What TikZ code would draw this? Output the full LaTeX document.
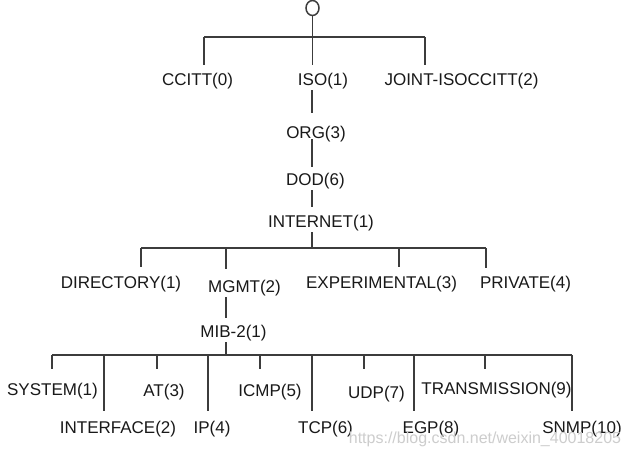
\documentclass[tikz,border=0pt]{standalone}
\usepackage{fontspec}
\setmainfont{Liberation Sans}
\usetikzlibrary{shapes.geometric}
\definecolor{txt}{RGB}{25,25,25}
\definecolor{ln}{RGB}{60,60,60}
\definecolor{wm}{RGB}{205,205,205}
\begin{document}
\begin{tikzpicture}[x=1pt,y=-1pt,
  lbl/.style={anchor=base,inner sep=0pt,text=txt,font=\fontsize{17}{20}\selectfont},
  conn/.style={draw=ln,line width=1.3pt},
  rootnode/.style={ellipse,draw=ln,line width=1.5pt,minimum width=13pt,minimum height=15pt,inner sep=0pt,outer sep=0pt}]
\useasboundingbox[fill=white] (0,0) rectangle (630,455);

% root
\node[rootnode] (root) at (312.5,8) {};

% level 1
\node[lbl] (ccitt) at (197.5,85) {CCITT(0)};
\node[lbl] (iso) at (323,85) {ISO(1)};
\node[lbl] (joint) at (461.5,85) {JOINT-ISOCCITT(2)};
\node[lbl] (org) at (316,138) {ORG(3)};
\node[lbl] (dod) at (315.5,185) {DOD(6)};
\node[lbl] (internet) at (321,227) {INTERNET(1)};

% level internet
\node[lbl] (directory) at (121,288) {DIRECTORY(1)};
\node[lbl] (mgmt) at (244.5,292) {MGMT(2)};
\node[lbl] (experimental) at (381.5,288) {EXPERIMENTAL(3)};
\node[lbl] (private) at (525.5,288) {PRIVATE(4)};
\node[lbl] (mib) at (233.5,337) {MIB-2(1)};

% mib-2 children
\node[lbl] (system) at (52.5,395) {SYSTEM(1)};
\node[lbl] (at) at (164,396) {AT(3)};
\node[lbl] (icmp) at (270,396) {ICMP(5)};
\node[lbl] (udp) at (376.5,398) {UDP(7)};
\node[lbl] (transmission) at (496.5,394) {TRANSMISSION(9)};
\node[lbl] (interface) at (118,433) {INTERFACE(2)};
\node[lbl] (ip) at (212,433) {IP(4)};
\node[lbl] (tcp) at (325.5,433) {TCP(6)};
\node[lbl] (egp) at (431,433) {EGP(8)};
\node[lbl] (snmp) at (582,433) {SNMP(10)};

% watermark
\node[anchor=base,inner sep=0pt,text=wm,font=\fontsize{16}{19}\selectfont] (wmark) at (485,443) {https://blog.csdn.net/weixin\_40018205};

% junction coordinates
\coordinate (b0l) at (204,37);
\coordinate (b0r) at (425,37);
\coordinate (e-ccitt) at (204,65);
\coordinate (e-iso) at (312.5,65);
\coordinate (e-joint) at (425,65);
\coordinate (s-iso) at (312,90);
\coordinate (e-org) at (312,113);
\coordinate (s-org) at (312,139);
\coordinate (e-dod) at (312,167);
\coordinate (s-dod) at (312,190);
\coordinate (e-internet) at (312,207);
\coordinate (s-internet) at (312,232);
\coordinate (b1c) at (312,248);
\coordinate (b1l) at (141,248);
\coordinate (b1m) at (226,248);
\coordinate (b1e) at (399,248);
\coordinate (b1r) at (486,248);
\coordinate (e-directory) at (141,267);
\coordinate (e-mgmt) at (226,269);
\coordinate (e-experimental) at (399,267);
\coordinate (e-private) at (486,268);
\coordinate (s-mgmt) at (226,297);
\coordinate (e-mib) at (226,318);
\coordinate (s-mib) at (226,342);
\coordinate (b2c) at (226,355);
\coordinate (b2l) at (52,355);
\coordinate (b2r) at (572,355);
\coordinate (e-system) at (52,369);
\coordinate (e-interface) at (104,411);
\coordinate (e-at) at (157,369);
\coordinate (e-ip) at (208,411);
\coordinate (e-icmp) at (260,369);
\coordinate (e-tcp) at (312,411);
\coordinate (e-udp) at (364,369);
\coordinate (e-egp) at (414,411);
\coordinate (e-transmission) at (485,369);
\coordinate (e-snmp) at (572,411);

% connectors
\draw[conn] (root.south) -- (e-iso);
\draw[conn] (b0l) -- (b0r);
\draw[conn] (b0l) -- (e-ccitt);
\draw[conn] (b0r) -- (e-joint);
\draw[conn] (s-iso) -- (e-org);
\draw[conn] (s-org) -- (e-dod);
\draw[conn] (s-dod) -- (e-internet);
\draw[conn] (s-internet) -- (b1c);
\draw[conn] (b1l) -- (b1r);
\draw[conn] (b1l) -- (e-directory);
\draw[conn] (b1m) -- (e-mgmt);
\draw[conn] (b1e) -- (e-experimental);
\draw[conn] (b1r) -- (e-private);
\draw[conn] (s-mgmt) -- (e-mib);
\draw[conn] (s-mib) -- (b2c);
\draw[conn] (b2l) -- (b2r);
\foreach \c in {system,interface,at,ip,icmp,tcp,udp,egp,transmission,snmp}
  \draw[conn] (e-\c |- b2l) -- (e-\c);
\end{tikzpicture}
\end{document}
